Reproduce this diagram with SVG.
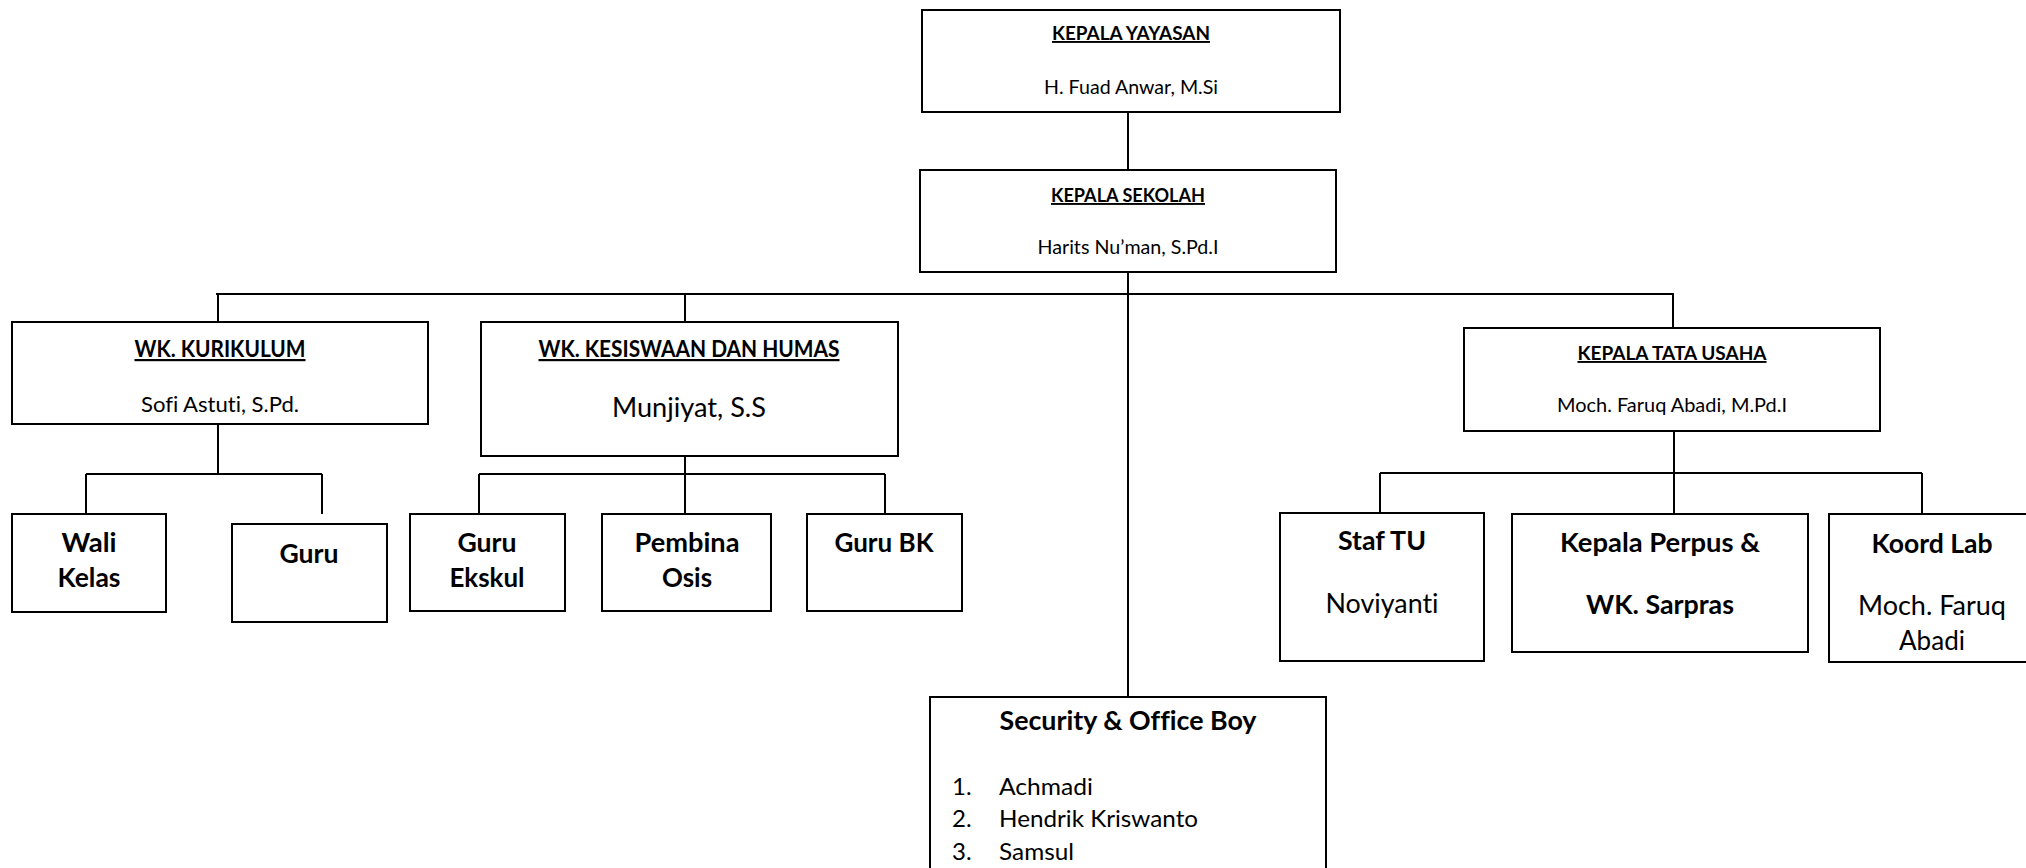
<svg xmlns="http://www.w3.org/2000/svg" width="2026" height="868" viewBox="0 0 2026 868">
<style>
.box{fill:#fff;stroke:#000;stroke-width:2}
.con{fill:none;stroke:#000;stroke-width:2}
text{font-family:Lato,"Liberation Sans",sans-serif;fill:#000;text-anchor:middle;font-variant-ligatures:none}
.t{font-size:19px;font-weight:bold;text-decoration:underline}
.n{font-size:19px}
.tm{font-size:22px;font-weight:bold;text-decoration:underline}
.nm{font-size:22px}
.nl{font-size:26px}
.b{font-size:26px;font-weight:bold}
.li{font-size:24px;text-anchor:start}
</style>
<rect width="2026" height="868" fill="#fff"/>
<g id="connectors">
<path class="con" d="M1128 112V170"/>
<path class="con" d="M1128 272V697"/>
<path class="con" d="M216 294H1674"/>
<path class="con" d="M218 294V322M685 294V322M1673 294V328"/>
<path class="con" d="M218 424V474M86 474H322M86 474V514M322 474V514"/>
<path class="con" d="M685 456V474M479 474H885M479 474V514M685 474V514M885 474V514"/>
<path class="con" d="M1674 431V473M1380 473H1922M1380 473V513M1674 473V514M1922 473V514"/>
</g>
<g id="kepala-yayasan">
<rect class="box" x="922" y="10" width="418" height="102"/>
<text class="t" x="1131" y="40" textLength="158" lengthAdjust="spacingAndGlyphs">KEPALA YAYASAN</text>
<text class="n" x="1131" y="94" textLength="174" lengthAdjust="spacingAndGlyphs">H. Fuad Anwar, M.Si</text>
</g>
<g id="kepala-sekolah">
<rect class="box" x="920" y="170" width="416" height="102"/>
<text class="t" x="1128" y="202" textLength="154" lengthAdjust="spacingAndGlyphs">KEPALA SEKOLAH</text>
<text class="n" x="1128" y="254" textLength="181" lengthAdjust="spacingAndGlyphs">Harits Nu’man, S.Pd.I</text>
</g>
<g id="wk-kurikulum">
<rect class="box" x="12" y="322" width="416" height="102"/>
<text class="tm" x="220" y="357" textLength="171" lengthAdjust="spacingAndGlyphs">WK. KURIKULUM</text>
<text class="nm" x="220" y="412" textLength="158" lengthAdjust="spacingAndGlyphs">Sofi Astuti, S.Pd.</text>
</g>
<g id="wk-kesiswaan">
<rect class="box" x="481" y="322" width="417" height="134"/>
<text class="tm" x="689" y="357" textLength="301" lengthAdjust="spacingAndGlyphs">WK. KESISWAAN DAN HUMAS</text>
<text class="nl" x="689" y="417" textLength="154" lengthAdjust="spacingAndGlyphs">Munjiyat, S.S</text>
</g>
<g id="kepala-tata-usaha">
<rect class="box" x="1464" y="328" width="416" height="103"/>
<text class="t" x="1672" y="360" textLength="189" lengthAdjust="spacingAndGlyphs">KEPALA TATA USAHA</text>
<text class="n" x="1672" y="412" textLength="230" lengthAdjust="spacingAndGlyphs">Moch. Faruq Abadi, M.Pd.I</text>
</g>
<g id="wali-kelas">
<rect class="box" x="12" y="514" width="154" height="98"/>
<text class="b" x="89" y="552" textLength="55" lengthAdjust="spacingAndGlyphs">Wali</text>
<text class="b" x="89" y="587" textLength="63" lengthAdjust="spacingAndGlyphs">Kelas</text>
</g>
<g id="guru">
<rect class="box" x="232" y="524" width="155" height="98"/>
<text class="b" x="309" y="563" textLength="59" lengthAdjust="spacingAndGlyphs">Guru</text>
</g>
<g id="guru-ekskul">
<rect class="box" x="410" y="514" width="155" height="97"/>
<text class="b" x="487" y="552" textLength="59" lengthAdjust="spacingAndGlyphs">Guru</text>
<text class="b" x="487" y="587" textLength="75" lengthAdjust="spacingAndGlyphs">Ekskul</text>
</g>
<g id="pembina-osis">
<rect class="box" x="602" y="514" width="169" height="97"/>
<text class="b" x="687" y="552" textLength="105" lengthAdjust="spacingAndGlyphs">Pembina</text>
<text class="b" x="687" y="587" textLength="50" lengthAdjust="spacingAndGlyphs">Osis</text>
</g>
<g id="guru-bk">
<rect class="box" x="807" y="514" width="155" height="97"/>
<text class="b" x="884" y="552" textLength="99" lengthAdjust="spacingAndGlyphs">Guru BK</text>
</g>
<g id="staf-tu">
<rect class="box" x="1280" y="513" width="204" height="148"/>
<text class="b" x="1382" y="550" textLength="88" lengthAdjust="spacingAndGlyphs">Staf TU</text>
<text class="nl" x="1382" y="613" textLength="113" lengthAdjust="spacingAndGlyphs">Noviyanti</text>
</g>
<g id="kepala-perpus">
<rect class="box" x="1512" y="514" width="296" height="138"/>
<text class="b" x="1660" y="552" textLength="200" lengthAdjust="spacingAndGlyphs">Kepala Perpus &amp;</text>
<text class="b" x="1660" y="614" textLength="148" lengthAdjust="spacingAndGlyphs">WK. Sarpras</text>
</g>
<g id="koord-lab">
<rect class="box" x="1829" y="514" width="210" height="148"/>
<text class="b" x="1932" y="553" textLength="121" lengthAdjust="spacingAndGlyphs">Koord Lab</text>
<text class="nl" x="1932" y="615" textLength="148" lengthAdjust="spacingAndGlyphs">Moch. Faruq</text>
<text class="nl" x="1932" y="650" textLength="66" lengthAdjust="spacingAndGlyphs">Abadi</text>
</g>
<g id="security">
<rect class="box" x="930" y="697" width="396" height="200"/>
<text class="b" x="1128" y="730" textLength="257" lengthAdjust="spacingAndGlyphs">Security &amp; Office Boy</text>
<text class="li" x="952" y="795">1.</text>
<text class="li" x="999" y="795" textLength="94" lengthAdjust="spacingAndGlyphs">Achmadi</text>
<text class="li" x="952" y="827">2.</text>
<text class="li" x="999" y="827" textLength="199" lengthAdjust="spacingAndGlyphs">Hendrik Kriswanto</text>
<text class="li" x="952" y="860">3.</text>
<text class="li" x="999" y="860" textLength="75" lengthAdjust="spacingAndGlyphs">Samsul</text>
</g>
</svg>
